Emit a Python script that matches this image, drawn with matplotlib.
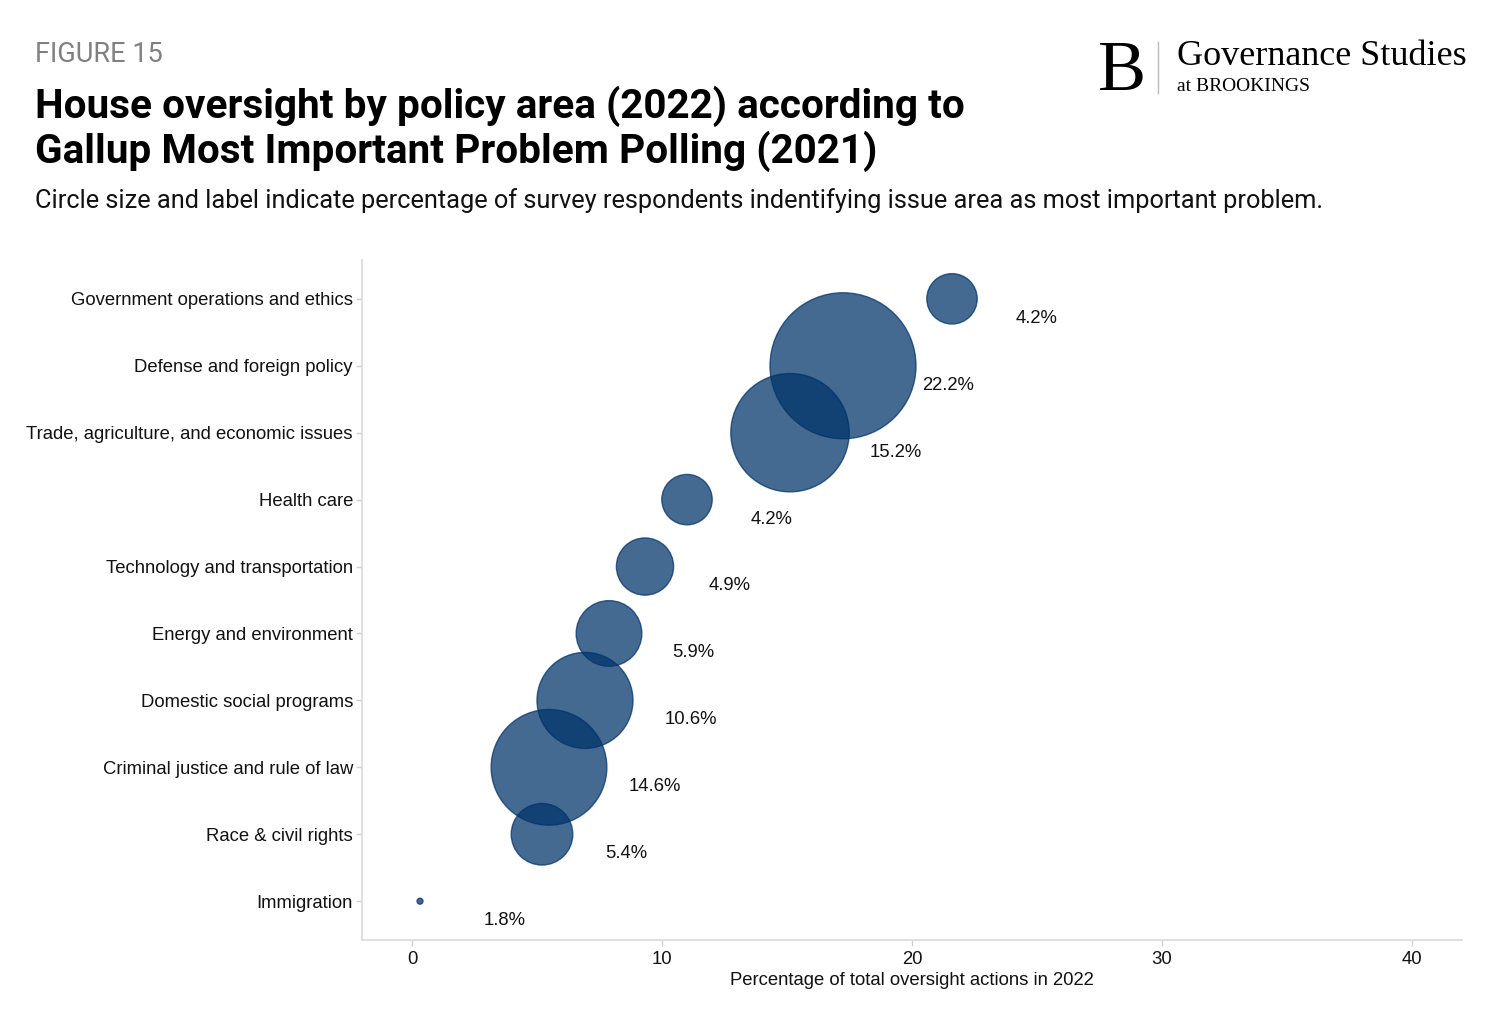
import numpy as np
import matplotlib.pyplot as plt

#   the data
categories = [
    "Government operations and ethics",
    "Defense and foreign policy",
    "Trade, agriculture, and economic issues",
    "Health care",
    "Technology and transportation",
    "Energy and environment",
    "Domestic social programs",
    "Criminal justice and rule of law",
    "Race & civil rights",
    "Immigration",
]
oversight_pct = [21.6, 17.24, 15.12, 11.0, 9.32, 7.88, 6.92, 5.48, 5.2, 0.32]
gallup_pct = [4.2, 22.2, 15.2, 4.2, 4.9, 5.9, 10.6, 14.6, 5.4, 1.8]
x_ticks = [0, 10, 20, 30, 40]

bubble_color = "#00336a"
txt = "#111111"
fs = 13.3

#   size scale: area grows linearly with the poll value (px^2 -> pt^2 at dpi 100)
g = np.array(gallup_pct)
area_px = 9 + (5329 - 9) * (g - g.min()) / (g.max() - g.min())
sizes = area_px * 4 * 0.72 ** 2

fig = plt.figure(figsize=(15, 10.35), dpi=100)
ax = fig.add_axes([362 / 1500, 95 / 1035, 1100 / 1500, 680 / 1035])

y = np.arange(len(categories))
ax.scatter(oversight_pct, y, s=sizes, color=bubble_color, alpha=0.73,
           edgecolors=bubble_color, linewidths=1.0, zorder=3)

#   percentage labels, down and to the right of each bubble
for xv, yv, gv in zip(oversight_pct, y, gallup_pct):
    lab = f"{gv:.1f}%"
    dx = 61 + 15 * (len(lab) - 4)
    ax.annotate(lab, (xv, yv), xytext=(dx, -14), textcoords="offset points",
                ha="center", va="center", fontsize=fs,
                family="Liberation Sans", color=txt)

ax.set_xlim(-2, 42)
ax.set_ylim(9.58, -0.58)
ax.set_yticks(y)
ax.set_yticklabels(categories, family="Liberation Sans", fontsize=fs, color=txt)
ax.set_xticks(x_ticks)
ax.set_xticklabels([str(t) for t in x_ticks], family="Liberation Sans", fontsize=fs, color=txt)
ax.set_xlabel("Percentage of total oversight actions in 2022", family="Liberation Sans",
              fontsize=fs, color=txt, labelpad=3)

for side in ["top", "right"]:
    ax.spines[side].set_visible(False)
for side in ["left", "bottom"]:
    ax.spines[side].set_color("#d9d9d9")
    ax.spines[side].set_linewidth(1.2)
ax.tick_params(axis="y", length=4, width=1, color="#d0d0d0", pad=2.5)
ax.tick_params(axis="x", length=4, width=1, color="#d0d0d0", pad=4)

#   header texts
fig.text(35 / 1500, 1 - 55 / 1035, "FIGURE 15", family="Roboto", fontsize=19.5,
         color="#808080", va="center")
fig.text(35 / 1500, 1 - 163 / 1035,
         "House oversight by policy area (2022) according to\nGallup Most Important Problem Polling (2021)",
         family="Roboto", fontweight="bold", fontsize=29.2, color="black",
         va="baseline", linespacing=1.13)
fig.text(35 / 1500, 1 - 201 / 1035,
         "Circle size and label indicate percentage of survey respondents indentifying issue area as most important problem.",
         family="Roboto", fontsize=18.3, color=txt, va="center")

#   logo
fig.text(1098 / 1500, 1 - 90 / 1035, "B", family="Liberation Serif", fontsize=52,
         color="black", va="baseline")
fig.add_artist(plt.Line2D([1158 / 1500, 1158 / 1500], [1 - 42 / 1035, 1 - 93 / 1035],
                          color="#bbbbbb", lw=1))
fig.text(1177 / 1500, 1 - 65 / 1035, "Governance Studies", family="Liberation Serif",
         fontsize=26, color="black", va="baseline")
fig.text(1177 / 1500, 1 - 91 / 1035, "at BROOKINGS", family="Liberation Serif",
         fontsize=14, color="black", va="baseline")

fig.savefig("out.png", dpi=100, facecolor="white")
